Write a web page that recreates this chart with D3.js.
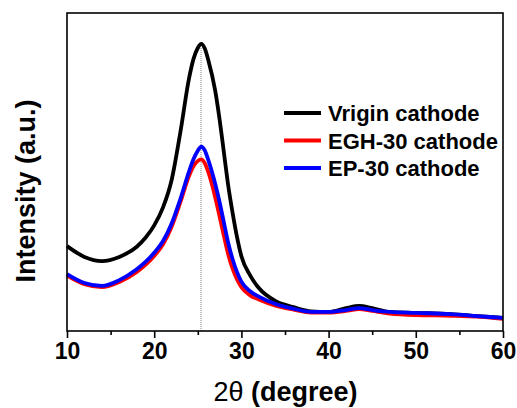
<!DOCTYPE html>
<html><head><meta charset="utf-8">
<script src="https://cdn.jsdelivr.net/npm/d3@7"></script>
<style>body{margin:0;background:#fff}svg{display:block}text{font-family:"Liberation Sans",Arial,sans-serif}</style>
</head><body>
<svg id="c" width="517" height="408"></svg>
<script>
const seriesNames = ["Vrigin cathode", "EGH-30 cathode", "EP-30 cathode"];
const seriesColors = ["#000000", "#ff0000", "#0000ff"];
const xTicks = [10, 20, 30, 40, 50, 60];
const xMinorTicks = [15, 25, 35, 45, 55];
const peakPos = 25.37;

const angle  = [10, 12, 14, 16, 18, 19, 20, 21, 22, 23, 24, 24.5, 25, 25.4, 25.8, 26.2, 27, 27.5, 28, 28.5, 29, 29.5, 30, 31, 32, 34, 36, 38, 40, 42, 43.5, 45, 47, 50, 54, 57, 60];
const virgin = [26.7, 23.3, 22.0, 23.3, 26.5, 29.3, 33.2, 38.8, 47.5, 62.5, 79.5, 85.5, 89.0, 90.3, 88.8, 85.2, 75.5, 66.5, 56.0, 45.5, 37.0, 29.5, 23.5, 17.5, 13.5, 9.3, 7.5, 6.2, 6.0, 7.2, 7.9, 7.2, 6.0, 5.7, 5.3, 4.7, 4.1];
const egh30  = [17.4, 14.7, 13.8, 15.4, 18.6, 20.8, 23.6, 27.2, 32.8, 40.5, 48.8, 51.8, 53.5, 54.0, 52.8, 50.0, 42.0, 36.0, 29.8, 24.0, 19.5, 16.2, 13.8, 11.2, 9.9, 7.9, 6.7, 5.8, 5.8, 6.3, 6.9, 6.3, 5.5, 5.0, 4.8, 4.5, 3.8];
const ep30   = [17.9, 15.1, 14.2, 16.0, 19.4, 21.7, 24.6, 28.2, 33.8, 41.5, 50.2, 54.0, 56.7, 58.0, 56.8, 53.8, 46.2, 40.5, 34.0, 27.5, 22.5, 18.5, 15.5, 12.5, 10.8, 8.4, 7.0, 6.0, 6.0, 6.6, 7.2, 6.6, 6.0, 5.7, 5.3, 4.7, 4.1];
const allSeries = [virgin, egh30, ep30];

const svg = d3.select("#c");
const L = 67, R = 503, T = 13, B = 331;
const x = d3.scaleLinear().domain([10, 60]).range([L, R]);
const y = d3.scaleLinear().domain([0, 100]).range([B, T]);

// dotted reference line
svg.append("line").attr("x1", x(peakPos)).attr("x2", x(peakPos))
  .attr("y1", y(89)).attr("y2", B)
  .attr("stroke", "#999").attr("stroke-width", 1.2).attr("stroke-dasharray", "1,1");

const line = d3.line().x((d, i) => x(angle[i])).y(d => y(d)).curve(d3.curveMonotoneX);
allSeries.forEach((s, k) => {
  svg.append("path").datum(s).attr("d", line).attr("fill", "none")
    .attr("stroke", seriesColors[k]).attr("stroke-width", 3.8).attr("stroke-linejoin", "round");
});

// frame
svg.append("rect").attr("x", L).attr("y", T).attr("width", R - L).attr("height", B - T)
  .attr("fill", "none").attr("stroke", "#000").attr("stroke-width", 1.6);

// x axis
const ax = svg.append("g").attr("transform", `translate(0,${B})`)
  .call(d3.axisBottom(x).tickValues(xTicks).tickSize(7).tickSizeOuter(0).tickPadding(5).tickFormat(d3.format("d")));
ax.select(".domain").remove();
ax.selectAll(".tick line").attr("stroke-width", 1.6);
ax.selectAll(".tick text").attr("font-size", 23).attr("font-weight", "bold").attr("font-family", "Liberation Sans, Arial, sans-serif");
const axm = svg.append("g").attr("transform", `translate(0,${B})`)
  .call(d3.axisBottom(x).tickValues(xMinorTicks).tickSize(4).tickSizeOuter(0).tickFormat(""));
axm.select(".domain").remove();
axm.selectAll(".tick line").attr("stroke-width", 1.6);

// axis titles
const xt = svg.append("text").attr("x", (212 + 359) / 2).attr("y", 401).attr("text-anchor", "middle").attr("font-size", 27);
xt.append("tspan").text("2θ ");
xt.append("tspan").attr("font-weight", "bold").text("(degree)");
svg.append("text").attr("transform", `translate(35,191) rotate(-90)`).attr("text-anchor", "middle")
  .attr("font-size", 27).attr("font-weight", "bold").text("Intensity (a.u.)");

// legend
seriesNames.forEach((n, k) => {
  const yy = 113 + k * 27.5;
  svg.append("line").attr("x1", 284).attr("x2", 321).attr("y1", yy).attr("y2", yy)
    .attr("stroke", seriesColors[k]).attr("stroke-width", 3.8);
  svg.append("text").attr("x", 328).attr("y", yy + 8).attr("font-size", 22).attr("font-weight", "bold").text(n);
});
</script>
</body></html>
